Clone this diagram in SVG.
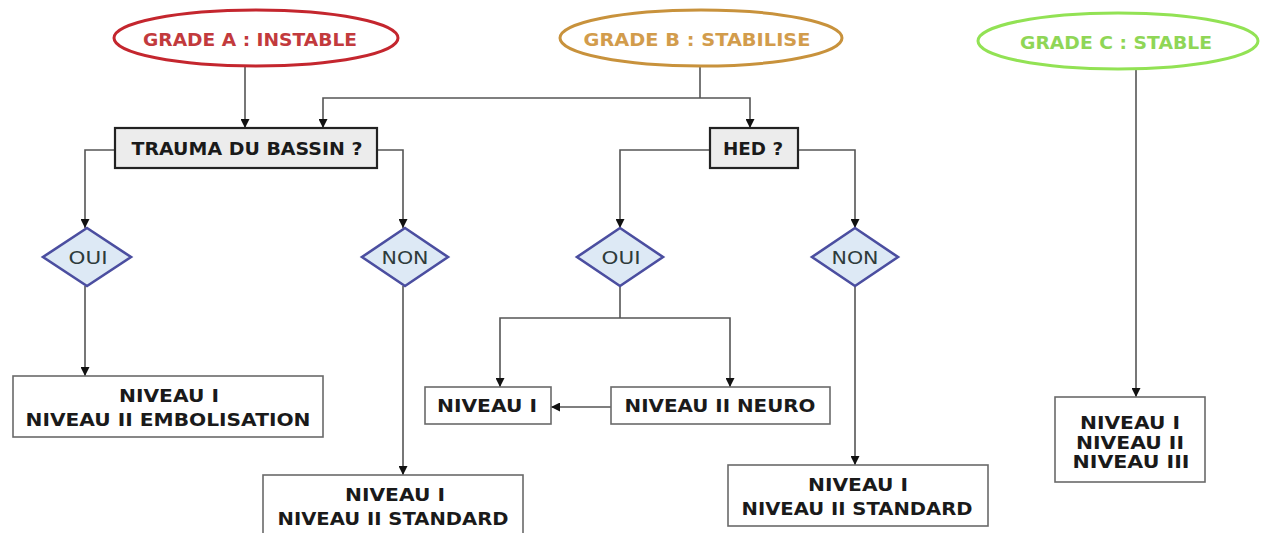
<svg xmlns="http://www.w3.org/2000/svg" width="1261" height="533" viewBox="0 0 1261 533">
<defs>
<marker id="arr" viewBox="0 0 10 10" refX="10" refY="5" markerWidth="9" markerHeight="9" markerUnits="userSpaceOnUse" orient="auto">
<path d="M0,0 L10,5 L0,10 Z" fill="#111"/>
</marker>
<style>
.t{font-family:"DejaVu Sans","Liberation Sans",sans-serif;font-weight:bold;font-size:17.5px;text-anchor:middle;fill:#1a1a1a}
.g{font-size:18px}
.box{fill:#fff;stroke:#6a6a6a;stroke-width:1.6}
.q{fill:#ececec;stroke:#222;stroke-width:2.2}
.dia{fill:#dde9f5;stroke:#4b4ea0;stroke-width:2.6}
.dt{fill:#2e3b3b;font-weight:normal;font-size:18px}
.c{fill:none;stroke:#555;stroke-width:1.6;marker-end:url(#arr)}
.l{fill:none;stroke:#555;stroke-width:1.6}
</style>
</defs>
<rect width="1261" height="533" fill="#fff"/>

<g id="connectors">
<path class="c" d="M245,67 V128"/>
<path class="l" d="M700,67 V98"/>
<path class="c" d="M700,98 H323 V128"/>
<path class="c" d="M700,98 H750 V128"/>
<path class="c" d="M115,150 H85 V228"/>
<path class="c" d="M377,150 H403 V228"/>
<path class="c" d="M85,286 V376"/>
<path class="c" d="M403,286 V475"/>
<path class="c" d="M710,150 H620 V228"/>
<path class="c" d="M798,150 H855 V228"/>
<path class="l" d="M620,286 V318"/>
<path class="c" d="M620,318 H500 V387"/>
<path class="c" d="M620,318 H730 V387"/>
<path class="c" d="M611,407 H551"/>
<path class="c" d="M855,286 V465"/>
<path class="c" d="M1136,70 V397"/>
</g>

<g id="gradeA">
<ellipse cx="256" cy="38" rx="142" ry="28" fill="#fff" stroke="#c4262e" stroke-width="3"/>
<text class="t g" x="250" y="46" style="fill:#c23a3d" textLength="214" lengthAdjust="spacingAndGlyphs">GRADE A : INSTABLE</text>
</g>
<g id="gradeB">
<ellipse cx="701" cy="38" rx="141" ry="28" fill="#fff" stroke="#c8923c" stroke-width="3"/>
<text class="t g" x="697" y="46" style="fill:#d29c4c" textLength="227" lengthAdjust="spacingAndGlyphs">GRADE B : STABILISE</text>
</g>
<g id="gradeC">
<ellipse cx="1118" cy="41" rx="140" ry="28" fill="#fff" stroke="#92e254" stroke-width="3"/>
<text class="t g" x="1116" y="49" style="fill:#8fd656" textLength="192" lengthAdjust="spacingAndGlyphs">GRADE C : STABLE</text>
</g>

<g id="trauma">
<rect class="q" x="115" y="128" width="262" height="40"/>
<text class="t" x="247" y="155" textLength="231" lengthAdjust="spacingAndGlyphs">TRAUMA DU BASSIN ?</text>
</g>
<g id="hed">
<rect class="q" x="710" y="128" width="88" height="40"/>
<text class="t" x="753" y="155" textLength="60" lengthAdjust="spacingAndGlyphs">HED ?</text>
</g>

<g id="ouiA">
<path class="dia" d="M87,228 L131,257 L87,286 L43,257 Z"/>
<text class="t dt" x="88" y="264" textLength="39" lengthAdjust="spacingAndGlyphs">OUI</text>
</g>
<g id="nonA">
<path class="dia" d="M405,228 L448,257 L405,286 L362,257 Z"/>
<text class="t dt" x="405" y="264" textLength="47" lengthAdjust="spacingAndGlyphs">NON</text>
</g>
<g id="ouiB">
<path class="dia" d="M620,228 L663,257 L620,286 L577,257 Z"/>
<text class="t dt" x="621" y="264" textLength="39" lengthAdjust="spacingAndGlyphs">OUI</text>
</g>
<g id="nonB">
<path class="dia" d="M855,228 L898,257 L855,286 L812,257 Z"/>
<text class="t dt" x="855" y="264" textLength="47" lengthAdjust="spacingAndGlyphs">NON</text>
</g>

<g id="embol">
<rect class="box" x="13" y="376" width="310" height="61"/>
<text class="t" x="169" y="402" textLength="100" lengthAdjust="spacingAndGlyphs">NIVEAU I</text>
<text class="t" x="168" y="426" textLength="285" lengthAdjust="spacingAndGlyphs">NIVEAU II EMBOLISATION</text>
</g>
<g id="standardA">
<rect class="box" x="263" y="475" width="260" height="70"/>
<text class="t" x="395" y="501" textLength="100" lengthAdjust="spacingAndGlyphs">NIVEAU I</text>
<text class="t" x="393" y="525" textLength="231" lengthAdjust="spacingAndGlyphs">NIVEAU II STANDARD</text>
</g>
<g id="niveau1">
<rect class="box" x="425" y="387" width="126" height="37"/>
<text class="t" x="487" y="412" textLength="100" lengthAdjust="spacingAndGlyphs">NIVEAU I</text>
</g>
<g id="neuro">
<rect class="box" x="611" y="387" width="219" height="37"/>
<text class="t" x="720" y="412" textLength="191" lengthAdjust="spacingAndGlyphs">NIVEAU II NEURO</text>
</g>
<g id="standardB">
<rect class="box" x="728" y="465" width="260" height="61"/>
<text class="t" x="858" y="491" textLength="100" lengthAdjust="spacingAndGlyphs">NIVEAU I</text>
<text class="t" x="857" y="515" textLength="231" lengthAdjust="spacingAndGlyphs">NIVEAU II STANDARD</text>
</g>
<g id="niveaux">
<rect class="box" x="1055" y="397" width="150" height="85"/>
<text class="t" x="1130" y="429" textLength="100" lengthAdjust="spacingAndGlyphs">NIVEAU I</text>
<text class="t" x="1130" y="449" textLength="108" lengthAdjust="spacingAndGlyphs">NIVEAU II</text>
<text class="t" x="1131" y="468" textLength="117" lengthAdjust="spacingAndGlyphs">NIVEAU III</text>
</g>
</svg>
